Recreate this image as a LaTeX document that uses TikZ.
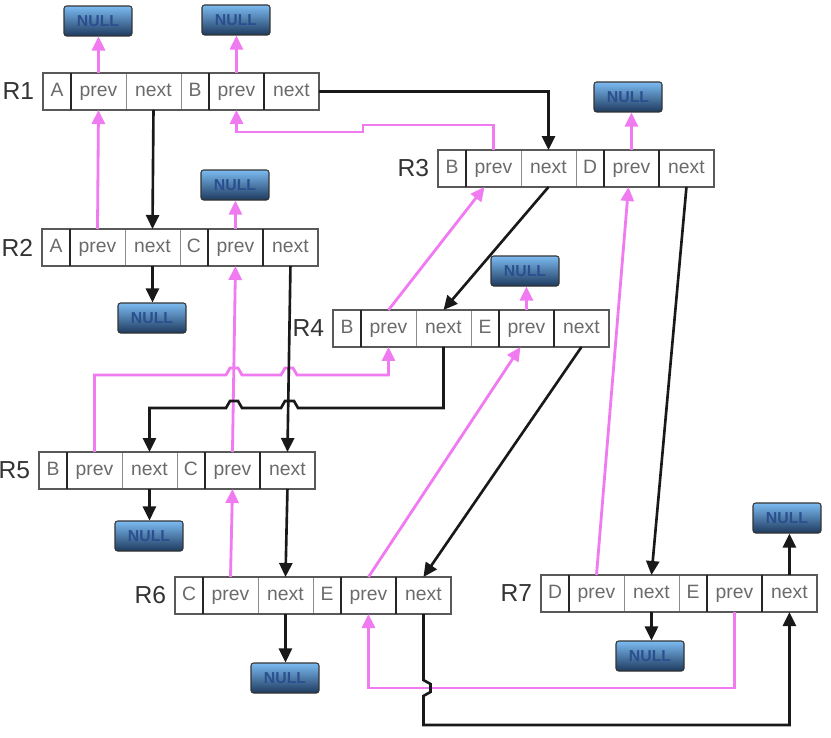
\documentclass[tikz,border=0pt]{standalone}
\usepackage{fontspec}
\setmainfont{Liberation Sans}
\usetikzlibrary{arrows.meta, positioning, calc}
\definecolor{ptrPink}{HTML}{F07AF0}
\definecolor{cellGrey}{HTML}{8C8C8C}
\definecolor{txtGrey}{HTML}{6A6A6A}
\definecolor{lblGrey}{HTML}{333333}
\definecolor{nullTop}{HTML}{7CBBF2}
\definecolor{nullBot}{HTML}{1E3A5E}
\definecolor{nullTxt}{HTML}{2B4F8E}
\tikzset{
  cell/.style      = {draw=cellGrey, line width=0.5pt, inner sep=0pt, outer sep=0pt,
                      minimum height=0.74cm, text=txtGrey,
                      font=\fontsize{11}{12}\selectfont, text height=0.75em, text depth=0.2em},
  keycell/.style   = {cell, minimum width=0.56cm},
  ptrcell/.style   = {cell, minimum width=1.1cm},
  recframe/.style  = {draw=black!65, line width=0.7pt},
  sepline/.style   = {black!85, line width=1.3pt},
  reclbl/.style    = {text=lblGrey, font=\fontsize{14}{15}\selectfont, inner sep=0pt},
  nullbox/.style   = {draw=black!80, line width=0.6pt, rounded corners=1.5pt,
                      top color=nullTop, bottom color=nullBot,
                      minimum width=1.36cm, minimum height=0.6cm, inner sep=0pt,
                      text=nullTxt, font=\fontsize{9}{10}\selectfont\bfseries},
  nextarrow/.style = {-{Triangle[length=0.28cm, width=0.26cm]}, line width=1.5pt, black!90},
  prevarrow/.style = {-{Triangle[length=0.28cm, width=0.26cm]}, line width=1.6pt, ptrPink},
}
% one record: name, top left corner, first key, second key
\newcommand{\drawrecord}[4]{%
  \node[keycell, anchor=north west] (#1-k1) at (#2) {#3};
  \node[ptrcell, right=0pt of #1-k1] (#1-p1) {prev};
  \node[ptrcell, right=0pt of #1-p1] (#1-n1) {next};
  \node[keycell, right=0pt of #1-n1] (#1-k2) {#4};
  \node[ptrcell, right=0pt of #1-k2] (#1-p2) {prev};
  \node[ptrcell, right=0pt of #1-p2] (#1-n2) {next};
  \draw[recframe] (#1-k1.north west) rectangle (#1-n2.south east);
  \foreach \cc in {p1,p2,n2}
    \draw[sepline] (#1-\cc.north west) -- (#1-\cc.south west);
  \node[reclbl, left=0.17cm of #1-k1] (#1-lbl) {#1};
}

\begin{document}
\begin{tikzpicture}[x=0.02cm, y=-0.02cm]
  \useasboundingbox (0,0) rectangle (831,737);
  % records
  \drawrecord{R1}{43,73}{A}{B}
  \drawrecord{R2}{42,229}{A}{C}
  \drawrecord{R3}{438,150}{B}{D}
  \drawrecord{R4}{333,310}{B}{E}
  \drawrecord{R5}{39,452}{B}{C}
  \drawrecord{R6}{175,577}{C}{E}
  \drawrecord{R7}{541,575}{D}{E}
  % NULL ends
  \node[nullbox] (R1-null1) at (98,21)  {NULL};
  \node[nullbox] (R1-null2) at (236,20) {NULL};
  \node[nullbox] (R2-null2) at (235,185) {NULL};
  \node[nullbox] (R2-null1) at (152,318) {NULL};
  \node[nullbox] (R3-null)  at (628,97) {NULL};
  \node[nullbox] (R4-null)  at (525,271) {NULL};
  \node[nullbox] (R5-null)  at (149,536) {NULL};
  \node[nullbox] (R6-null)  at (285,678) {NULL};
  \node[nullbox] (R7-null1) at (650,656) {NULL};
  \node[nullbox] (R7-null2) at (787,518) {NULL};
  % prev pointers
  \draw[prevarrow] (R1-p1.north) -- (R1-p1.north |- R1-null1.south);
  \draw[prevarrow] (R1-p2.north) -- (R1-p2.north |- R1-null2.south);
  \draw[prevarrow] (R2-p2.north) -- (R2-p2.north |- R2-null2.south);
  \draw[prevarrow] (R3-p2.north) -- (R3-p2.north |- R3-null.south);
  \draw[prevarrow] (R4-p2.north) -- (R4-p2.north |- R4-null.south);
  \draw[prevarrow] (R2-p1.north) -- (R1-p1.south);
  \draw[prevarrow] (R3-p1.north) |- (363,125) -- (363,132) -| (R1-p2.south);
  \draw[prevarrow] (R4-p1.north) -- ([xshift=-0.18cm]R3-p1.south);
  \draw[prevarrow] (R5-p2.north) -- (R2-p2.south);
  \draw[prevarrow] (R5-p1.north) |- (226,375) -- (230,368) -- (238,368) -- (242,375)
    -- (281,375) -- (285,368) -- (293,368) -- (297,375) -| (R4-p1.south);
  \draw[prevarrow] (R6-p1.north) -- (R5-p2.south);
  \draw[prevarrow] (R6-p2.north) -- ([xshift=-0.12cm]R4-p2.south);
  \draw[prevarrow] (R7-p1.north) -- ([xshift=-0.06cm]R3-p2.south);
  \draw[prevarrow] (R7-p2.south) -- ++(0,76) -| (R6-p2.south);
  % next pointers
  \draw[nextarrow] (R1-n1.south) -- (R2-n1.north);
  \draw[nextarrow] (R1-n2.east) -| (R3-n1.north);
  \draw[nextarrow] (R2-n1.south) -- (R2-n1.south |- R2-null1.north);
  \draw[nextarrow] (R2-n2.south) -- (R5-n2.north);
  \draw[nextarrow] (R3-n1.south) -- (R4-n1.north);
  \draw[nextarrow] (R3-n2.south) -- (R7-n1.north);
  \draw[nextarrow] (R4-n1.south) |- (298,408) -- (294,401) -- (285,401) -- (281,408)
    -- (242,408) -- (238,401) -- (230,401) -- (226,408) -| (R5-n1.north);
  \draw[nextarrow] (R4-n2.south) -- (R6-n2.north);
  \draw[nextarrow] (R5-n1.south) -- (R5-n1.south |- R5-null.north);
  \draw[nextarrow] (R5-n2.south) -- (R6-n1.north);
  \draw[nextarrow] (R6-n1.south) -- (R6-n1.south |- R6-null.north);
  \draw[nextarrow] (R6-n2.south) -- ++(0,66) -- ++(7,4) -- ++(0,8) -- ++(-7,4)
    -- ++(0,29) -| (R7-n2.south);
  \draw[nextarrow] (R7-n1.south) -- (R7-n1.south |- R7-null1.north);
  \draw[nextarrow] (R7-n2.north) -- (R7-n2.north |- R7-null2.south);
\end{tikzpicture}
\end{document}
